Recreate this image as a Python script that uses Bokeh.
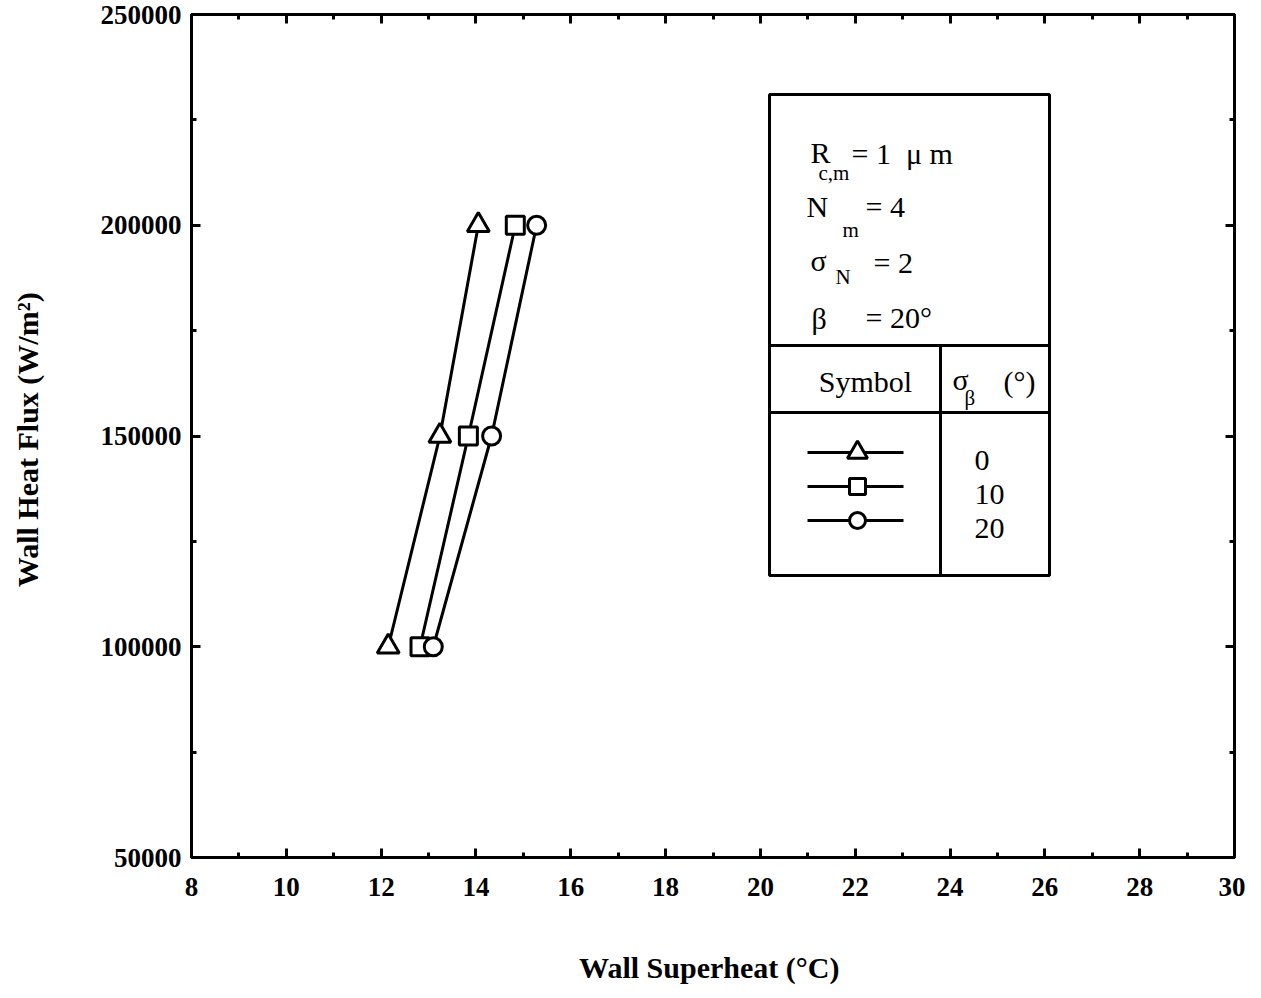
from bokeh.plotting import figure
from bokeh.models import LinearAxis, FixedTicker, Range1d, BasicTickFormatter, CustomJSTickFormatter
from bokeh.core.properties import value
from bokeh.embed import file_html
from bokeh.resources import INLINE

# ---- data ----
heat_flux = [100000, 150000, 200000]
superheat_sb0 = [12.15, 13.24, 14.05]
superheat_sb10 = [12.82, 13.84, 14.83]
superheat_sb20 = [13.10, 14.33, 15.28]
sigma_beta_labels = ["0", "10", "20"]
x_ticks = [8, 10, 12, 14, 16, 18, 20, 22, 24, 26, 28, 30]
y_ticks = [50000, 100000, 150000, 200000, 250000]

X0, X1 = 8, 30
Y0, Y1 = 50000, 250000

FRAME_W, FRAME_H = 1043, 843
W, H = 1245, 990
ML, MT = 191, 14

SERIF = "Liberation Serif"
NB = "\u00a0"

p = figure(width=W, height=H, output_backend="svg", toolbar_location=None,
           x_range=Range1d(X0, X1), y_range=Range1d(Y0, Y1),
           x_axis_location=None, y_axis_location=None,
           min_border_left=ML, min_border_right=W - ML - FRAME_W,
           min_border_top=MT, min_border_bottom=H - MT - FRAME_H)
p.xgrid.visible = False
p.ygrid.visible = False
p.outline_line_color = "black"
p.outline_line_width = 3


def style_axis(ax, labels=True):
    ax.axis_line_width = 3
    ax.axis_line_color = "black"
    ax.major_tick_in = 9
    ax.major_tick_out = 0
    ax.minor_tick_in = 5
    ax.minor_tick_out = 0
    ax.major_tick_line_width = 3
    ax.minor_tick_line_width = 3
    ax.major_label_text_font = SERIF
    ax.major_label_text_font_style = "bold"
    ax.major_label_text_color = "black"
    ax.major_label_text_font_size = "27px"
    if not labels:
        ax.major_label_standoff = 0
        ax.formatter = CustomJSTickFormatter(code="return '';")


xt = FixedTicker(ticks=x_ticks, minor_ticks=list(range(X0, X1 + 1)))
yt = FixedTicker(ticks=y_ticks, minor_ticks=list(range(Y0, Y1 + 1, 25000)))

xb = LinearAxis(ticker=xt, formatter=BasicTickFormatter(use_scientific=False))
style_axis(xb)
xb.major_label_standoff = 20
xb.axis_label = "Wall Superheat  (°C)"
xb.axis_label_text_font = SERIF
xb.axis_label_text_font_style = "bold"
xb.axis_label_text_font_size = "30px"
xb.axis_label_text_color = "black"
xb.axis_label_standoff = 52
p.add_layout(xb, "below")

yl = LinearAxis(ticker=yt, formatter=BasicTickFormatter(use_scientific=False))
style_axis(yl)
yl.major_label_standoff = 10
yl.axis_label = "Wall Heat Flux  (W/m²)"
yl.axis_label_text_font = SERIF
yl.axis_label_text_font_style = "bold"
yl.axis_label_text_font_size = "30px"
yl.axis_label_text_color = "black"
yl.axis_label_standoff = 54
p.add_layout(yl, "left")

xa = LinearAxis(ticker=xt)
style_axis(xa, labels=False)
p.add_layout(xa, "above")
yr = LinearAxis(ticker=yt)
style_axis(yr, labels=False)
p.add_layout(yr, "right")

# ---- data series ----
LW = 3
p.line(superheat_sb0, heat_flux, line_color="black", line_width=LW)
p.line(superheat_sb10, heat_flux, line_color="black", line_width=LW)
p.line(superheat_sb20, heat_flux, line_color="black", line_width=LW)
p.scatter(superheat_sb0, heat_flux, marker="triangle", size=22, fill_color="white",
          line_color="black", line_width=LW)
p.scatter(superheat_sb10, heat_flux, marker="square", size=18, fill_color="white",
          line_color="black", line_width=LW)
p.scatter(superheat_sb20, heat_flux, marker="circle", size=18, fill_color="white",
          line_color="black", line_width=LW)


# ---- legend table (annotation, positioned via picture pixels) ----
def px_x(px):
    return X0 + (px - ML) / FRAME_W * (X1 - X0)


def px_y(py):
    return Y1 - (py - MT) / FRAME_H * (Y1 - Y0)


bx0, bx1, bxm = px_x(769), px_x(1049), px_x(940)
by0, by1, byd1, byd2 = px_y(94), px_y(575), px_y(345), px_y(412)
p.quad(left=[bx0], right=[bx1], bottom=[by1], top=[by0], fill_color="white",
       line_color="black", line_width=3)
p.segment(x0=[bx0, bx0, bxm], y0=[byd1, byd2, byd1], x1=[bx1, bx1, bxm], y1=[byd1, byd2, by1],
          line_color="black", line_width=3)


def txt(px, py, s, size="30px", align="left"):
    p.text(x=[px_x(px)], y=[px_y(py)], text=[s], text_font=value(SERIF),
           text_font_size=size, text_baseline="middle", text_align=align, text_color="black")


txt(810, 152, "R")
txt(818, 172, "c,m", size="21px")
txt(851, 153, "=" + NB + "1" + NB + NB + "μ" + NB + "m")
txt(806, 206, "N")
txt(842, 229, "m", size="21px")
txt(865, 206, "=" + NB + "4")
txt(810, 260, "σ")
txt(835, 276, "N", size="21px")
txt(873, 262, "=" + NB + "2")
txt(811, 318, "β")
txt(865, 317, "=" + NB + "20°")
txt(865, 381, "Symbol", align="center")
txt(952, 379, "σ")
txt(964, 397, "β", size="21px")
txt(1003, 381, "(°)")

rows_py = [452, 486, 520]
markers = [("triangle", 20), ("square", 16), ("circle", 16)]
for rpy, (mk, sz), lab in zip(rows_py, markers, sigma_beta_labels):
    p.segment(x0=[px_x(807)], y0=[px_y(rpy)], x1=[px_x(903)], y1=[px_y(rpy)],
              line_color="black", line_width=3)
    p.scatter([px_x(857)], [px_y(rpy)], marker=mk, size=sz, fill_color="white",
              line_color="black", line_width=3)
    txt(974, rpy + 8, lab)

open("out.html", "w").write(file_html(p, INLINE))
